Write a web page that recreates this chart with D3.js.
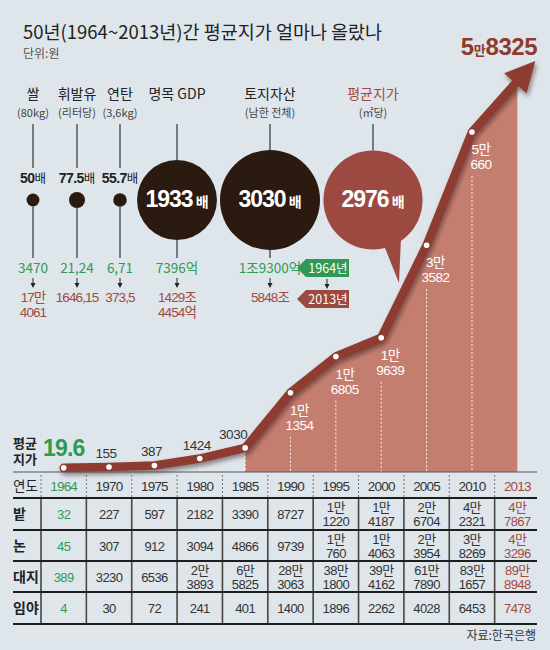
<!DOCTYPE html>
<html><head><meta charset="utf-8">
<script src="https://cdn.jsdelivr.net/npm/d3@7"></script>
<style>body{margin:0;background:#dee6eb;} svg{display:block;}</style>
</head><body><svg id="c" width="550" height="650"></svg>
<script>
// ---------- DATA ----------
const title = "50년(1964~2013년)간 평균지가 얼마나 올랐나";
const unitNote = "단위:원";
const source = "자료:한국은행";
const years = ["1964","1970","1975","1980","1985","1990","1995","2000","2005","2010","2013"];
const avgPrice = [19.6,155,387,1424,3030,11354,16805,19639,33582,50660,58325];
const fieldRow = [32,227,597,2182,3390,8727,11220,14187,26704,42321,47867];
const paddyRow = [45,307,912,3094,4866,9739,10760,14063,23954,38269,43296];
const siteRow = [389,3230,6536,23893,65825,283063,381800,394162,617890,831657,898948];
const forestRow = [4,30,72,241,401,1400,1896,2262,4028,6453,7478];
const rowNames = ["밭","논","대지","임야"];

const itemNames = ["쌀","휘발유","연탄","명목 GDP","토지자산","평균지가"];
const itemUnits = ["(80kg)","(리터당)","(3,6kg)","","(남한 전체)","(㎡당)"];
const itemRatio = [50,77.5,55.7,1933,3030,2976];
const itemRatioLabel = ["50","77.5","55.7","1933","3030","2976"];
const item1964 = ["3470","21,24","6,71","7396억","1조9300억",""];
const item2013 = [["17만","4061"],["1646,15"],["373,5"],["1429조","4454억"],["5848조"],[]];
const tagLabels = ["1964년","2013년"];

// ---------- LAYOUT ----------
const W=550,H=650;
const KR = "'Noto Sans CJK KR','Noto Sans',sans-serif";
const NUM = "'Liberation Sans',Arial,sans-serif";
const NUMK = "'Liberation Sans','Noto Sans CJK KR',sans-serif";
const C = {bg:"#dee6eb", ink:"#222", gray:"#333", green:"#2e9a55", red:"#a34a40",
  line:"#8e3a32", area:"#c47e70", dark:"#2a1a10", bubble:"#9c4a41"};
const itemX = [33,77,120,177,270,373];
const circleY = 200;

const svg = d3.select("#c");
svg.append("rect").attr("width",W).attr("height",H).attr("fill",C.bg);
const defs = svg.append("defs");
defs.append("filter").attr("id","sh").attr("x","-20%").attr("y","-20%").attr("width","140%").attr("height","140%")
  .append("feDropShadow").attr("dx",1.5).attr("dy",3).attr("stdDeviation",2)
  .attr("flood-color","#2a1008").attr("flood-opacity",0.5);

// multi-line text helper (one text element, tspans per line)
function multi(sel, X, Y0, lines, lh){
  const t = sel.append("text").attr("x",X).attr("y",Y0);
  lines.forEach((s,k)=> t.append("tspan").attr("x",X).attr("dy", k===0?0:lh).text(s));
  return t;
}

// Title
svg.append("text").attr("x",23).attr("y",39).attr("font-family",KR).attr("font-size",18.5)
  .attr("fill",C.ink).text(title);
svg.append("text").attr("x",23).attr("y",58).attr("font-family",KR).attr("font-size",12)
  .attr("fill","#555").text(unitNote);

// ---------- ITEMS (circles) ----------
const r = d3.scaleSqrt().domain([0,3030]).range([0,50]);
itemNames.forEach((name,i)=>{
  const X = itemX[i], R = r(itemRatio[i]), big = R>20;
  const g = svg.append("g");
  g.append("text").attr("x",X).attr("y",99).attr("text-anchor","middle").attr("font-family",KR)
    .attr("font-size",14).attr("fill", i===5?C.red:C.ink).text(name);
  if(itemUnits[i]) g.append("text").attr("x",X).attr("y",117).attr("text-anchor","middle").attr("font-family",KR)
    .attr("font-size",11).attr("fill","#444").text(itemUnits[i]);
  g.append("line").attr("x1",X).attr("x2",X).attr("y1",124).attr("y2", big? circleY-R : 168)
    .attr("stroke","#333").attr("stroke-width",1.2);
  if(i===5){
    g.append("path").attr("d",`M${X+10},${circleY+43} L${X+28},${circleY+38} L${X+26},${circleY+83} Z`).attr("fill",C.bubble);
  }
  g.append("circle").attr("cx",X).attr("cy",circleY).attr("r",R).attr("fill", i===5?C.bubble:C.dark);
  if(big){
    const t = g.append("text").attr("x",X).attr("y",circleY+7).attr("text-anchor","middle").attr("fill","#fff");
    t.append("tspan").attr("font-family",NUM).attr("font-weight","bold").attr("font-size",23).attr("letter-spacing",-1).text(itemRatioLabel[i]);
    t.append("tspan").attr("font-family",KR).attr("font-weight","bold").attr("font-size",14).attr("dx",3).text("배");
  } else {
    const t = g.append("text").attr("x",X).attr("y",183).attr("text-anchor","middle").attr("fill",C.ink);
    t.append("tspan").attr("font-family",NUM).attr("font-weight","bold").attr("font-size",14).attr("letter-spacing",-0.6).text(itemRatioLabel[i]);
    t.append("tspan").attr("font-family",KR).attr("font-size",12.5).text("배");
  }
  if(i<5){
    g.append("line").attr("x1",X).attr("x2",X).attr("y1",circleY+R).attr("y2",258).attr("stroke","#333").attr("stroke-width",1.2);
    g.append("text").attr("x",X).attr("y",273).attr("text-anchor","middle").attr("font-family",KR)
      .attr("font-size",13.5).attr("fill",C.green).text(item1964[i]);
    g.append("line").attr("x1",X).attr("x2",X).attr("y1",278).attr("y2",284).attr("stroke","#222").attr("stroke-width",1);
    g.append("path").attr("d",`M${X-2.5},${283} L${X+2.5},${283} L${X},${288} Z`).attr("fill","#222");
    multi(g, X, 302, item2013[i], 15).attr("text-anchor","middle").attr("font-family",NUMK)
      .attr("font-size",13.5).attr("letter-spacing",-0.9).attr("fill",C.red);
  }
});

// Legend tags
[[259,C.green],[290,C.bubble]].forEach(([ty,col],k)=>{
  svg.append("path").attr("d",`M297,${ty+9} L306,${ty} L349,${ty} L349,${ty+18} L306,${ty+18} Z`).attr("fill",col);
  svg.append("text").attr("x",328).attr("y",ty+14).attr("text-anchor","middle").attr("font-family",KR)
    .attr("font-size",12.5).attr("fill","#fff").text(tagLabels[k]);
});
svg.append("line").attr("x1",327).attr("x2",327).attr("y1",279).attr("y2",285).attr("stroke","#222");
svg.append("path").attr("d","M324.5,284 L329.5,284 L327,289 Z").attr("fill","#222");

// ---------- CHART ----------
const x = d3.scaleBand().domain(years).range([41,540]);
const cx = d => x(d)+x.bandwidth()/2;
const y = d3.scaleLinear().domain([0,60000]).range([468,70]);
const baseY = 472;
const pts = years.map((yr,i)=>[cx(yr), y(avgPrice[i])]);

// area from 1985 on
const a0 = 4;
const area = d3.area().x(d=>d[0]).y0(baseY).y1(d=>d[1]);
svg.append("path").attr("d", area(pts.slice(a0))).attr("fill",C.area);

// white dotted drops
pts.forEach((p,i)=>{
  if(i<3 || i===10) return;
  const y1 = i>=5 ? p[1]+44 : p[1]+4;
  svg.append("line").attr("x1",p[0]).attr("x2",p[0]).attr("y1",y1).attr("y2",baseY)
    .attr("stroke","#fff").attr("stroke-width",1).attr("stroke-dasharray","2,2").attr("opacity",0.9);
});

// line + arrow
const pL = pts[pts.length-1], pP = pts[pts.length-2];
let ux = pL[0]-pP[0], uy = pL[1]-pP[1]; const ul = Math.hypot(ux,uy); ux/=ul; uy/=ul;
const baseC = [pL[0]-ux*3, pL[1]-uy*3];
const tip = [pL[0]+ux*27, pL[1]+uy*27];
const hw = 15;
const lg = svg.append("g").attr("filter","url(#sh)");
lg.append("path").attr("d", d3.line()([...pts.slice(0,-1), baseC])).attr("fill","none")
  .attr("stroke",C.line).attr("stroke-width",8.5).attr("stroke-linejoin","round").attr("stroke-linecap","round");
lg.append("path").attr("d",`M${tip[0]},${tip[1]} L${baseC[0]-uy*hw},${baseC[1]+ux*hw} L${baseC[0]+uy*hw},${baseC[1]-ux*hw} Z`)
  .attr("fill",C.line);
svg.selectAll("circle.pt").data(pts.slice(0,-1)).join("circle").attr("class","pt")
  .attr("cx",d=>d[0]).attr("cy",d=>d[1]).attr("r",2.8).attr("fill","#fff");

// big 2013 value
const fmt = v => v>=10000 ? [Math.floor(v/10000)+"만", String(v%10000)] : [String(v)];
const last = fmt(avgPrice[10]);
const bt = svg.append("text").attr("x",537).attr("y",55).attr("text-anchor","end").attr("fill","#8e3a2d");
bt.append("tspan").attr("font-family",NUM).attr("font-weight","bold").attr("font-size",24).attr("letter-spacing",-0.5).text(last[0].replace("만",""));
bt.append("tspan").attr("font-family",KR).attr("font-weight","bold").attr("font-size",13).text("만");
bt.append("tspan").attr("font-family",NUM).attr("font-weight","bold").attr("font-size",24).attr("letter-spacing",-0.5).text(last[1]);

// point labels
multi(svg, 13, 448, ["평균","지가"], 16).attr("font-family",NUMK).attr("font-size",13).attr("font-weight","bold").attr("fill",C.ink);
svg.append("text").attr("x",43).attr("y",456).attr("font-family",NUM).attr("font-weight","bold").attr("font-size",23)
  .attr("letter-spacing",-0.8).attr("fill",C.green).text(String(avgPrice[0]));
pts.forEach((p,i)=>{
  if(i===0 || i===10) return;
  if(i<5){
    const steep = (p[1]-pts[i+1][1])>20;
    svg.append("text").attr("x",p[0]-(steep?12:3)).attr("y",p[1]-9).attr("text-anchor","middle")
      .attr("font-family",NUMK).attr("font-size",13.5).attr("letter-spacing",-0.5).attr("fill",C.gray).text(fmt(avgPrice[i])[0]);
  } else {
    multi(svg, p[0]+9, p[1]+22, fmt(avgPrice[i]), 15).attr("text-anchor","middle")
      .attr("font-family",NUMK).attr("font-size",13.5).attr("letter-spacing",-0.5).attr("fill","#fff");
  }
});

// ---------- TABLE ----------
svg.append("line").attr("x1",13).attr("x2",537).attr("y1",baseY).attr("y2",baseY).attr("stroke","#555").attr("stroke-width",1.2);
svg.append("text").attr("x",13).attr("y",491).attr("font-family",KR).attr("font-size",13.5).attr("fill",C.ink).text("연도");
const colCol = i => i===0?C.green:(i===10?C.red:C.gray);
years.forEach((yr,i)=>{
  svg.append("line").attr("x1",x(yr)).attr("x2",x(yr)).attr("y1",475).attr("y2",497)
    .attr("stroke","#777").attr("stroke-width",1).attr("stroke-dasharray","2,2");
  svg.append("text").attr("x",cx(yr)).attr("y",491).attr("text-anchor","middle").attr("font-family",NUMK)
    .attr("font-size",13.5).attr("letter-spacing",-0.8).attr("fill",colCol(i)).text(yr);
});
const rowTops = [498,530,561,592,624];
const rows = [fieldRow,paddyRow,siteRow,forestRow];
years.forEach(yr=>{
  svg.append("line").attr("x1",x(yr)).attr("x2",x(yr)).attr("y1",498).attr("y2",624).attr("stroke","#4a4540").attr("stroke-width",1.6);
});
rowTops.forEach(t=>{
  svg.append("line").attr("x1",13).attr("x2",537).attr("y1",t).attr("y2",t).attr("stroke","#1e1e1e").attr("stroke-width",2);
});
rows.forEach((row,ri)=>{
  const mid = (rowTops[ri]+rowTops[ri+1])/2;
  svg.append("text").attr("x",13).attr("y",mid+5).attr("font-family",KR).attr("font-size",14).attr("font-weight","bold")
    .attr("fill",C.ink).text(rowNames[ri]);
  row.forEach((v,i)=>{
    const parts = fmt(v);
    const y0 = parts.length===1 ? mid+5 : mid-2;
    multi(svg, cx(years[i]), y0, parts, 14).attr("text-anchor","middle").attr("font-family",NUMK)
      .attr("font-size",13).attr("letter-spacing",-0.6).attr("fill",colCol(i));
  });
});
svg.append("text").attr("x",536).attr("y",640).attr("text-anchor","end").attr("font-family",KR)
  .attr("font-size",12).attr("fill","#333").text(source);
</script></body></html>
